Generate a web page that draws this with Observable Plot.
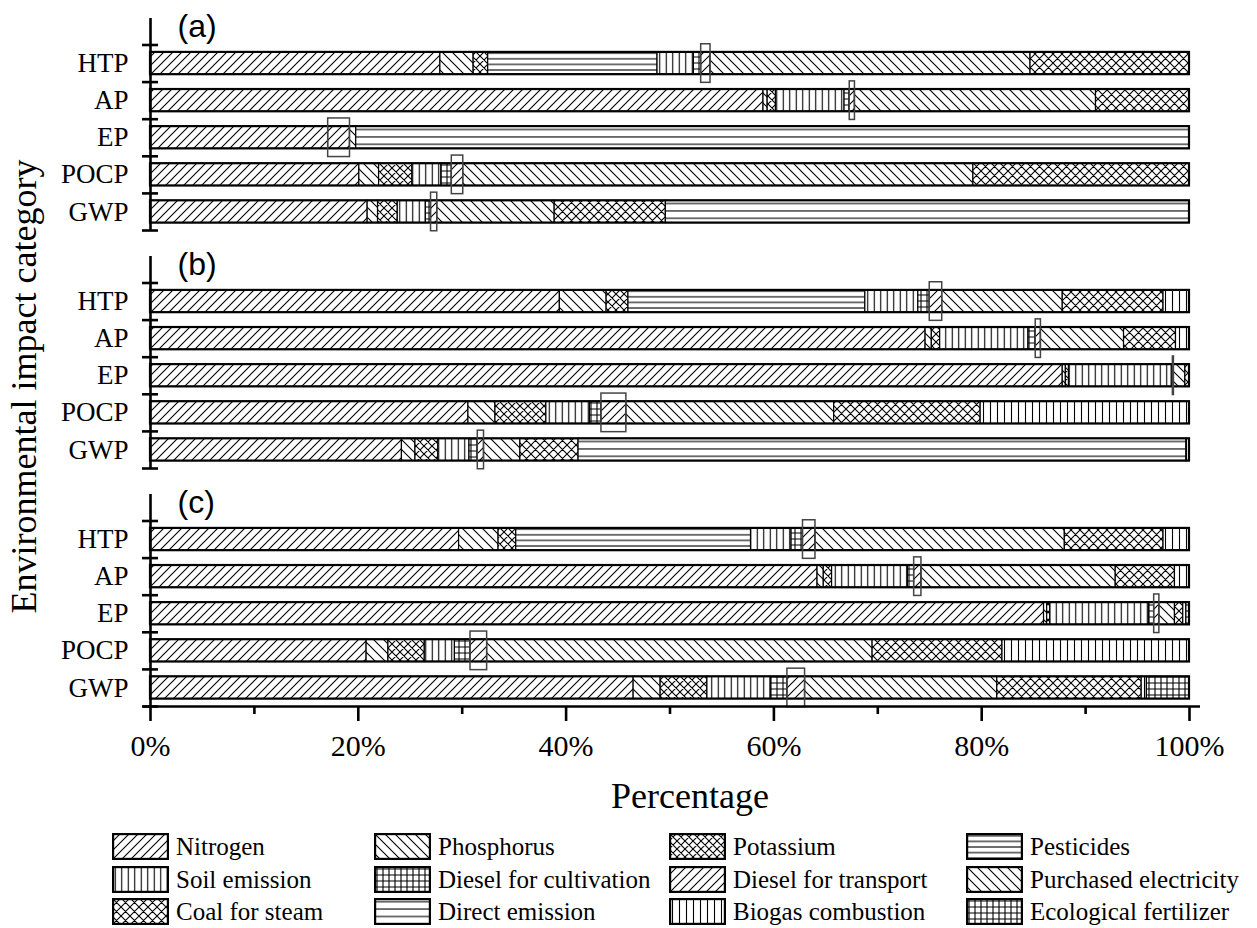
<!DOCTYPE html>
<html>
<head>
<meta charset="utf-8">
<script src="https://cdn.jsdelivr.net/npm/d3@7"></script>
<script src="https://cdn.jsdelivr.net/npm/@observablehq/plot@0.6"></script>
<style>
  body { margin: 0; background: #fff; }
  #wrap { position: relative; width: 1257px; height: 928px; background: #fff; }
  .item { position: absolute; display: flex; align-items: center; height: 27px; white-space: nowrap;
          font-family: "Liberation Serif", "Times New Roman", serif; font-size: 25px; color: #000; }
  .item svg { margin-right: 7px; flex: none; }
</style>
</head>
<body>
<svg width="0" height="0" style="position:absolute"><defs id="pdefs"></defs></svg>
<div id="wrap"></div>
<script>
// ---------------- data ----------------
const panels = ["a", "b", "c"];
const panelLabels = ["(a)", "(b)", "(c)"];
const categories = ["HTP", "AP", "EP", "POCP", "GWP"];
const sources = [
  "Nitrogen", "Phosphorus", "Potassium", "Pesticides",
  "Soil emission", "Diesel for cultivation", "Diesel for transport", "Purchased electricity",
  "Coal for steam", "Direct emission", "Biogas combustion", "Ecological fertilizer"
];
// values (%) per category, in the order of `sources`
const valuesA = [
  [27.9, 3.2, 1.4, 16.3, 3.5, 0.7, 0.9, 30.8, 15.3, 0, 0, 0],    // HTP
  [59.0, 0.4, 0.8, 0, 6.6, 0.5, 0.5, 23.2, 9.0, 0, 0, 0],         // AP
  [17.1, 0, 0, 0, 0, 0, 2.1, 0.6, 0, 80.2, 0, 0],                 // EP
  [20.1, 1.9, 3.2, 0, 2.8, 1.0, 1.1, 49.1, 20.8, 0, 0, 0],        // POCP
  [20.9, 1.0, 1.9, 0, 2.7, 0.5, 0.6, 11.3, 10.7, 50.4, 0, 0]      // GWP
];
const valuesB = [
  [39.4, 4.5, 2.1, 22.8, 5.1, 1.1, 1.2, 11.6, 9.7, 0, 2.5, 0],
  [74.6, 0.6, 0.8, 0, 8.5, 0.7, 0.5, 8.0, 5.0, 0, 1.3, 0],
  [87.8, 0.3, 0.3, 0, 9.9, 0.1, 0.1, 1.1, 0.4, 0, 0, 0],
  [30.6, 2.6, 4.9, 0, 4.2, 1.1, 2.4, 20.0, 14.1, 0, 20.1, 0],
  [24.2, 1.3, 2.2, 0, 3.0, 0.8, 0.6, 3.5, 5.6, 58.5, 0.3, 0]
];
const valuesC = [
  [29.7, 3.8, 1.7, 22.6, 3.9, 1.1, 1.2, 24.0, 9.5, 0, 2.5, 0],
  [64.2, 0.6, 0.8, 0, 7.3, 0.6, 0.7, 18.7, 5.7, 0, 1.4, 0],
  [86.0, 0.3, 0.3, 0, 9.5, 0.5, 0.5, 1.5, 0.8, 0, 0.3, 0.3],
  [20.8, 2.1, 3.5, 0, 2.9, 1.5, 1.6, 37.1, 12.5, 0, 18.0, 0],
  [46.5, 2.6, 4.5, 0, 6.1, 1.6, 1.7, 18.5, 13.9, 0, 0.5, 4.1]
];
const majorTicks = [0, 20, 40, 60, 80, 100];
const minorTicks = [10, 30, 50, 70, 90];
const xTitle = "Percentage";
const yTitle = "Environmental impact category";
const highlighted = "Diesel for transport";

// ---------------- patterns ----------------
const ink = 'stroke="#000" stroke-width="1.1" fill="none"';
function pat(id, w, h, d) {
  return `<pattern id="${id}" patternUnits="userSpaceOnUse" width="${w}" height="${h}">` +
         `<rect width="${w}" height="${h}" fill="#fff"/><path d="${d}" ${ink}/></pattern>`;
}
const fwd = s => `M0,${s}L${s},0M-1,1L1,-1M${s-1},${s+1}L${s+1},${s-1}`;
const bwd = s => `M0,0L${s},${s}M-1,${s-1}L1,${s+1}M${s-1},-1L${s+1},1`;
const hor = s => `M0,${s/2}H20`;
const ver = s => `M${s/2},0V20`;
const patternDefs = [
  pat("p0", 9, 9, fwd(9)),
  pat("p1", 10, 10, bwd(10)),
  pat("p2", 8, 8, fwd(8) + bwd(8)),
  pat("p3", 20, 5.6, hor(5.6)),
  pat("p4", 6.5, 20, ver(6.5)),
  pat("p5", 6, 6, "M0,3H6M3,0V6"),
  pat("p6", 9, 9, fwd(9)),
  pat("p7", 10, 10, bwd(10)),
  pat("p8", 9, 9, fwd(9) + bwd(9)),
  pat("p9", 20, 7.4, hor(7.4)),
  pat("p10", 7, 20, ver(7)),
  pat("p11", 6, 6, "M0,3H6M3,0V6")
];
document.getElementById("pdefs").innerHTML = patternDefs.join("");
const patternOf = s => `url(#p${sources.indexOf(s)})`;

// ---------------- tables ----------------
const allValues = [valuesA, valuesB, valuesC];
const segs = [], totals = [];
panels.forEach((p, pi) => {
  categories.forEach((c, ci) => {
    const vals = allValues[pi][ci];
    const ends = d3.cumsum(vals);
    vals.forEach((v, si) => {
      if (v > 0) segs.push({panel: p, category: c, ci, source: sources[si], x1: ends[si] - v, x2: ends[si]});
    });
    totals.push({panel: p, ci, total: d3.sum(vals)});
  });
});
const boxes = segs.filter(d => d.source === highlighted);
const labelRows = panels.map((p, i) => ({panel: p, label: panelLabels[i]}));
const lastPanel = panels[panels.length - 1];
const majorRows = majorTicks.map(v => ({panel: lastPanel, v}));
const minorRows = minorTicks.map(v => ({panel: lastPanel, v}));

const serif = '"Liberation Serif", "Times New Roman", serif';
const sans = '"Liberation Sans", Arial, sans-serif';

const chart = Plot.plot({
  width: 1257,
  height: 822,
  marginLeft: 150,
  marginRight: 68,
  marginTop: 18,
  marginBottom: 115,
  style: {fontFamily: serif, background: "#fff", color: "#000", overflow: "visible"},
  x: {domain: [0, 100], axis: null},
  y: {domain: [0, categories.length], reverse: true, insetTop: 26.5, axis: null},
  fy: {domain: panels, paddingInner: 0.108, paddingOuter: 0, axis: null},
  color: {type: "identity"},
  marks: [
    Plot.rectX(segs, {
      fy: "panel", x1: "x1", x2: "x2",
      y1: d => d.ci + 0.2, y2: d => d.ci + 0.8,
      fill: d => patternOf(d.source), stroke: "#000", strokeWidth: 1.2
    }),
    Plot.rectX(totals, {
      fy: "panel", x1: 0, x2: "total",
      y1: d => d.ci + 0.2, y2: d => d.ci + 0.8,
      fill: "none", stroke: "#000", strokeWidth: 2.2
    }),
    Plot.rectX(boxes, {
      fy: "panel", x1: "x1", x2: "x2",
      y1: d => d.ci - 0.02, y2: d => d.ci + 1.02,
      fill: "none", stroke: "#444", strokeWidth: 1.5
    }),
    // y axis line per panel
    Plot.ruleX([0], {stroke: "#000", strokeWidth: 2.6}),
    // y ticks between categories (crossing the axis)
    Plot.ruleY(d3.range(categories.length + 1), {y: d => d, x1: 0, x2: 0, insetLeft: -8, insetRight: -8, stroke: "#000", strokeWidth: 2.6}),
    // category labels
    Plot.text(categories, {y: (d, i) => i + 0.5, x: 0, text: d => d, textAnchor: "end", dx: -22, fontSize: 27}),
    // panel labels
    Plot.text(labelRows, {fy: "panel", text: "label", frameAnchor: "top-left", textAnchor: "start", lineAnchor: "middle", dx: 27, dy: 8, fontSize: 32, fontFamily: sans}),
    // x axis (bottom panel only)
    Plot.ruleY([{panel: lastPanel}], {fy: "panel", y: categories.length, x1: 0, x2: 100, insetLeft: -7, insetRight: -11, stroke: "#000", strokeWidth: 2.6}),
    Plot.ruleX(majorRows, {fy: "panel", x: "v", y1: categories.length, y2: categories.length, insetBottom: -15, stroke: "#000", strokeWidth: 2.6}),
    Plot.ruleX(minorRows, {fy: "panel", x: "v", y1: categories.length, y2: categories.length, insetBottom: -8, stroke: "#000", strokeWidth: 2.6}),
    Plot.text(majorRows, {fy: "panel", x: "v", y: categories.length, text: d => d.v + "%", dy: 40, fontSize: 30, lineAnchor: "middle"}),
    // axis titles
    Plot.text([xTitle], {facet: "super", text: d => d, frameAnchor: "bottom", dx: 20, dy: 90, fontSize: 36, lineAnchor: "middle"}),
    Plot.text([yTitle], {facet: "super", text: d => d, frameAnchor: "left", rotate: -90, dx: -126.5, dy: 24, fontSize: 36, lineAnchor: "middle", textAnchor: "middle"})
  ]
});
const wrap = document.getElementById("wrap");
wrap.appendChild(chart);

// ---------------- legend ----------------
const colX = [112, 374, 669, 966];
const rowY = [833, 866, 898];
sources.forEach((s, i) => {
  const item = document.createElement("div");
  item.className = "item";
  item.style.left = colX[i % 4] + "px";
  item.style.top = rowY[Math.floor(i / 4)] + "px";
  item.innerHTML = `<svg width="57" height="27"><rect x="1.1" y="1.1" width="54.8" height="24.8" fill="${patternOf(s)}" stroke="#000" stroke-width="2.2"/></svg><span>${s}</span>`;
  wrap.appendChild(item);
});
</script>
</body>
</html>
